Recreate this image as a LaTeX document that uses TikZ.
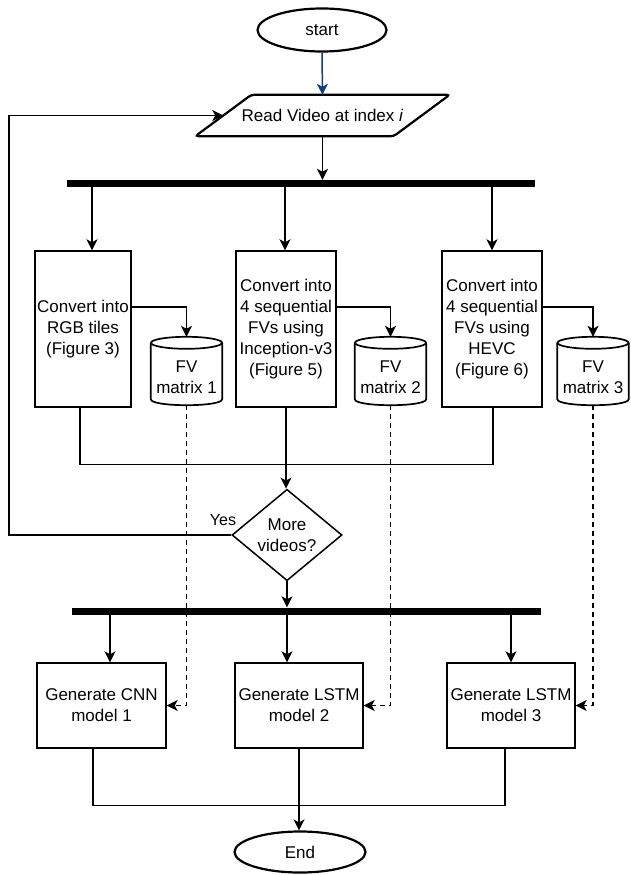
\documentclass[tikz,border=0pt]{standalone}
\usepackage{fontspec}
\setmainfont{Liberation Sans}
\usetikzlibrary{shapes.geometric,arrows.meta,calc}
\definecolor{startblue}{RGB}{18,62,122}
\begin{document}
\begin{tikzpicture}[x=1pt,y=-1pt,
  base/.style={font=\fontsize{17}{21}\selectfont, align=center, inner sep=1pt},
  term/.style={base, ellipse, draw, line width=2.2pt, minimum width=129pt, minimum height=43pt},
  procbox/.style={base, rectangle, draw, line width=1.4pt},
  bar/.style={rectangle, fill=black, inner sep=0pt, minimum height=7pt},
  arr/.style={-{Stealth[length=11pt,width=11pt,inset=3pt]}, line width=1.5pt},
  link/.style={line width=1.4pt},
  dasharr/.style={arr, line width=1.4pt, dash pattern=on 5pt off 4pt},
  cylline/.style={line width=1.7pt},
  cyltext/.style={base, inner sep=0pt, minimum width=71pt, minimum height=56pt},
  decision/.style={base, diamond, draw, line width=1.5pt, inner sep=0pt, minimum width=110pt, minimum height=84pt},
]
\fill[white] (0,0) rectangle (630,875);
\useasboundingbox (0,0) rectangle (630,875);

% terminals and input
\node[term] (s) at (322,30) {start};
\node[base, inner sep=0pt, minimum width=198pt, minimum height=41pt] (p) at (322.5,115.5) {Read Video at index \textit{i}};
\draw[line width=2.2pt, rounded corners=3pt] ([xshift=-28pt]p.south west) -- ([xshift=28pt]p.north west) -- ([xshift=28pt]p.north east) -- ([xshift=-28pt]p.south east) -- cycle;

% fork bar 1
\node[bar, minimum width=468pt] (bar1) at (301,183.5) {};

% conversion boxes
\node[procbox, minimum width=96pt, minimum height=156pt] (b1) at (83,329) {Convert into\\RGB tiles\\(Figure 3)};
\node[procbox, minimum width=100pt, minimum height=156pt] (b2) at (286,329) {Convert into\\4 sequential\\FVs using\\Inception-v3\\(Figure 5)};
\node[procbox, minimum width=100pt, minimum height=156pt] (b3) at (492,329) {Convert into\\4 sequential\\FVs using\\HEVC\\(Figure 6)};

% cylinders
\newcommand\drawcyl[1]{%
  \draw[cylline] ($(#1.north west)+(0,-6)$) -- ($(#1.south west)+(0,-6)$) .. controls +(0,8) and ($(#1.south east)+(0,2)$) .. ($(#1.south east)+(0,-6)$) -- ($(#1.north east)+(0,-6)$);
  \draw[cylline] ($(#1.north)+(0,-6)$) ellipse [x radius=35.5, y radius=6];
  \coordinate (#1top) at ($(#1.north)+(0,-12)$);
}
\node[cyltext] (c1) at (186.5,377) {FV\\matrix 1};
\node[cyltext] (c2) at (390.5,377) {FV\\matrix 2};
\node[cyltext] (c3) at (593,377) {FV\\matrix 3};
\drawcyl{c1}
\drawcyl{c2}
\drawcyl{c3}

% decision
\node[decision] (d) at (287,535) {More\\videos?};
\node[base, font=\fontsize{16}{19}\selectfont] (yes) at (223,520) {Yes};

% fork bar 2
\node[bar, minimum width=469pt] (bar2) at (306.5,611) {};

% model boxes
\node[procbox, minimum width=129pt, minimum height=85pt] (g1) at (101.5,705.5) {Generate CNN\\model 1};
\node[procbox, minimum width=128pt, minimum height=85pt] (g2) at (299,705.5) {Generate LSTM\\model 2};
\node[procbox, minimum width=128pt, minimum height=85pt] (g3) at (511,705.5) {Generate LSTM\\model 3};
\node[term, minimum width=131pt, minimum height=41pt] (e) at (300,852) {End};

% helper coordinates
\coordinate (loopc) at (9,535);
\coordinate (b1top) at ($(b1.north)+(9,0)$);
\coordinate (b2top) at ($(b2.north)+(-1,0)$);
\coordinate (b3top) at (b3.north);
\coordinate (g1top) at ($(g1.north)+(8.5,0)$);
\coordinate (g2top) at ($(g2.north)+(-12,0)$);
\coordinate (g3top) at (g3.north);

% connectors
\draw[arr, color=startblue] (s.south) -- (p.north);
\draw[arr] (p.south) -- (p.south |- bar1.north);
\draw[arr] (d.west) -- (loopc) |- (p.west);

\draw[arr] (b1top |- bar1.south) -- (b1top);
\draw[arr] (b2top |- bar1.south) -- (b2top);
\draw[arr] (b3top |- bar1.south) -- (b3top);

\draw[arr] ([yshift=22pt]b1.east) -| (c1top);
\draw[arr] ([yshift=22pt]b2.east) -| (c2top);
\draw[arr] ([yshift=22pt]b3.east) -| (c3top);

\draw[link] ($(b1.south)+(-3,0)$) |- ($(b3.south)+(1,57)$) -- ($(b3.south)+(1,0)$);
\draw[arr] (b2.south) -- (b2.south |- d.north);

\draw[arr] (d.south) -- (d.south |- bar2.north);
\draw[arr] (g1top |- bar2.south) -- (g1top);
\draw[arr] (g2top |- bar2.south) -- (g2top);
\draw[arr] (g3top |- bar2.south) -- (g3top);

\draw[dasharr] (c1.south) |- (g1.east);
\draw[dasharr] (c2.south) |- (g2.east);
\draw[dasharr] (c3.south) |- (g3.east);

\draw[link] ($(g1.south)+(-8.5,0)$) |- ($(g3.south)+(-6,57)$) -- ($(g3.south)+(-6,0)$);
\draw[arr] (g2.south) -- (g2.south |- e.north);
\end{tikzpicture}
\end{document}
